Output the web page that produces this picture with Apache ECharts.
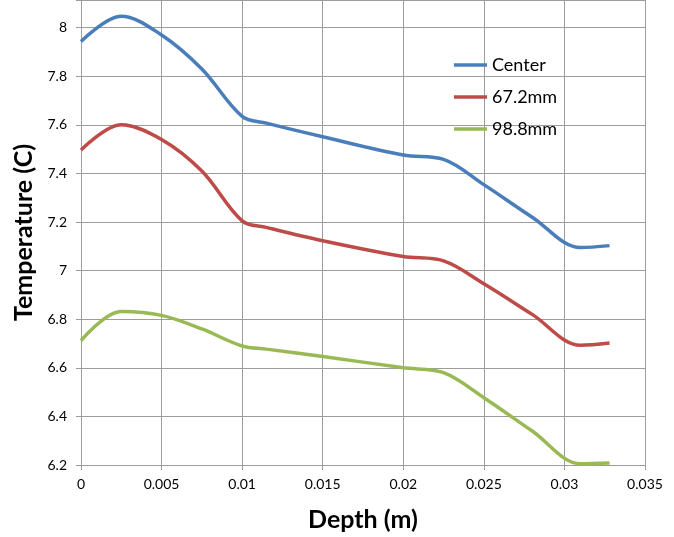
<!DOCTYPE html>
<html>
<head>
<meta charset="utf-8">
<script src="https://cdn.jsdelivr.net/npm/echarts@6/dist/echarts.min.js"></script>
<style>
html,body{margin:0;padding:0;background:#fff;}
#chart{width:674px;height:537px;}
</style>
</head>
<body>
<div id="chart"></div>
<script>
// Depth values (m)
var depths = [0, 0.0025, 0.005, 0.0075, 0.01, 0.0115, 0.015, 0.02, 0.0225, 0.025, 0.028, 0.031, 0.0328];
// Temperature series (C)
var centerTemps = [7.943, 8.047, 7.97, 7.83, 7.635, 7.607, 7.551, 7.476, 7.458, 7.354, 7.22, 7.095, 7.103];
var temps672 = [7.497, 7.601, 7.54, 7.41, 7.205, 7.178, 7.123, 7.058, 7.04, 6.946, 6.82, 6.693, 6.702];
var temps988 = [6.712, 6.832, 6.816, 6.76, 6.69, 6.677, 6.647, 6.6, 6.58, 6.477, 6.34, 6.205, 6.208];
var seriesNames = ['Center', '67.2mm', '98.8mm'];
var xTitle = 'Depth (m)';
var yTitle = 'Temperature (C)';

function pairs(xs, ys){ return xs.map(function(x,i){ return [x, ys[i]]; }); }

var FONT = 'Lato, "Open Sans", sans-serif';
var GRID = '#9c9c9c';
var colors = ['#4a7ebb', '#be4b48', '#98b954'];

var chart = echarts.init(document.getElementById('chart'));
chart.setOption({
  animation: false,
  color: colors,
  grid: {left: 81, right: 29, top: -3, bottom: 71, containLabel: false},
  legend: {
    orient: 'vertical',
    left: 449, top: 50,
    icon: 'rect',
    itemWidth: 33, itemHeight: 3.5,
    itemGap: 12,
    textStyle: {fontFamily: FONT, fontSize: 18, color: '#000', lineHeight: 20},
    data: seriesNames
  },
  xAxis: {
    type: 'value', min: 0, max: 0.035, interval: 0.005,
    name: xTitle, nameLocation: 'middle', nameGap: 42,
    nameTextStyle: {fontFamily: FONT, fontSize: 25, fontWeight: 'bold', color: '#000'},
    axisLine: {show: true, lineStyle: {color: GRID, width: 1}},
    axisTick: {show: true, length: 5, lineStyle: {color: GRID}},
    axisLabel: {fontFamily: FONT, fontSize: 14, color: '#000', margin: 12,
      formatter: function(v){ return String(+v.toFixed(3)); }},
    splitLine: {show: true, lineStyle: {color: GRID, width: 1}}
  },
  yAxis: {
    type: 'value', min: 6.2, max: 8.114, interval: 0.2,
    name: yTitle, nameLocation: 'middle', nameGap: 42,
    nameTextStyle: {fontFamily: FONT, fontSize: 25, fontWeight: 'bold', color: '#000'},
    axisLine: {show: true, lineStyle: {color: GRID, width: 1}},
    axisTick: {show: true, length: 5, lineStyle: {color: GRID}},
    axisLabel: {fontFamily: FONT, fontSize: 14, color: '#000', margin: 14,
      formatter: function(v){ return v > 8.05 ? '' : String(+v.toFixed(1)); }},
    splitLine: {show: true, lineStyle: {color: GRID, width: 1}}
  },
  series: [
    {name: seriesNames[0], type: 'line', data: pairs(depths, centerTemps)},
    {name: seriesNames[1], type: 'line', data: pairs(depths, temps672)},
    {name: seriesNames[2], type: 'line', data: pairs(depths, temps988)}
  ].map(function(s, i){
    s.smooth = 0.35; s.showSymbol = false; s.symbol = 'none';
    s.lineStyle = {width: 3.5, color: colors[i]};
    return s;
  })
});
</script>
</body>
</html>
